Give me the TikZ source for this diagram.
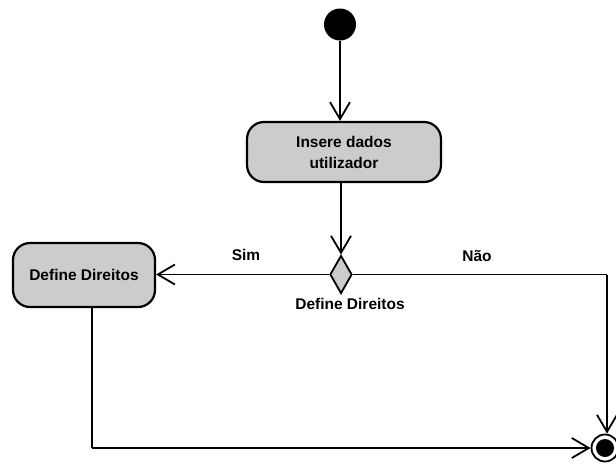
\documentclass[tikz,border=0pt]{standalone}
\usepackage{fontspec}
\setmainfont{Liberation Sans}
\usetikzlibrary{arrows.meta,shapes.geometric}
\begin{document}
\begin{tikzpicture}[x=1pt,y=-1pt,
  flow/.style={line width=1.8pt,-{Straight Barb[length=17pt,width=20pt,line width=1.8pt]}},
  plain/.style={line width=1.8pt},
  action/.style={draw,line width=2.2pt,rounded corners=17pt,fill=black!20,
    font=\bfseries\fontsize{15.5}{21}\selectfont,align=center,inner sep=0pt},
  decision/.style={draw,diamond,line width=1.8pt,fill=black!20,inner sep=0pt,
    minimum width=22pt,minimum height=38pt},
  lbl/.style={font=\bfseries\fontsize{15.5}{18}\selectfont,inner sep=0pt}]
  \useasboundingbox (0,0) rectangle (616,464);

  % start node
  \node[circle,fill=black,minimum size=32pt,inner sep=0pt] (start) at (340,24.5) {};

  % actions
  \node[action,minimum width=194pt,minimum height=60pt] (insere) at (344,152)
    {Insere dados\\utilizador};
  \node[action,minimum width=142pt,minimum height=64pt] (define) at (84,275)
    {Define Direitos};

  % decision
  \node[decision] (dec) at (341,274.5) {};
  \node[lbl] (declbl) at (350,304) {Define Direitos};

  % final node
  \node[circle,draw,line width=1.8pt,minimum size=27pt,inner sep=0pt] (final) at (605,448) {};
  \fill (final.center) circle (9pt);

  % connector corners
  \coordinate (ne) at (607,274.5);
  \coordinate (sw) at (92,448);

  % connectors
  \draw[flow] (start) -- (start |- insere.north);
  \draw[flow] (dec.north |- insere.south) -- (dec.north);
  \draw[flow] (dec.west) -- (define.east |- dec.west);
  \draw[plain] (dec.east) -- (ne);
  \draw[flow] (ne) -- (ne |- final.north);
  \draw[plain] (sw |- define.south) -- (sw);
  \draw[flow] (sw) -- (final.west);

  % guard labels
  \node[lbl] (sim) at (246,255) {Sim};
  \node[lbl] (nao) at (477,256) {Não};
\end{tikzpicture}
\end{document}
